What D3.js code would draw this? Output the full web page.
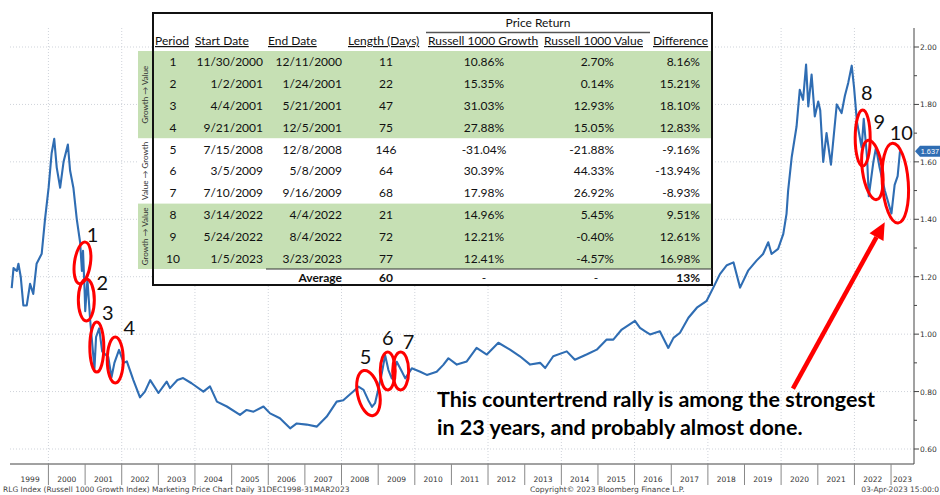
<!DOCTYPE html>
<html>
<head>
<meta charset="utf-8">
<script src="https://cdn.jsdelivr.net/npm/d3@7"></script>
<style>
    body { margin: 0; background: #fff; }
    svg { display: block; }
</style>
</head>
<body>
<div id="chart"></div>
<script>
// Growth vs value line
const dates = [
    '1998-12-31', '1999-01-18', '1999-02-20', '1999-03-08', '1999-03-31', '1999-04-26', '1999-05-30', '1999-07-02',
    '1999-08-03', '1999-09-05', '1999-10-26', '1999-11-28', '2000-01-03', '2000-02-02', '2000-02-28', '2000-03-24',
    '2000-04-27', '2000-05-31', '2000-07-13', '2000-08-04', '2000-09-06', '2000-10-10', '2000-11-12', '2000-11-30',
    '2000-12-11', '2000-12-28', '2001-01-02', '2001-01-24', '2001-02-20', '2001-03-12', '2001-04-04', '2001-04-20',
    '2001-05-21', '2001-06-20', '2001-07-20', '2001-08-20', '2001-09-21', '2001-10-20', '2001-12-05', '2002-01-20',
    '2002-02-21', '2002-04-27', '2002-07-02', '2002-08-20', '2002-10-12', '2003-01-02', '2003-03-25', '2003-04-27',
    '2003-07-10', '2003-09-05', '2003-11-28', '2004-03-25', '2004-05-30', '2004-08-07', '2004-11-14', '2005-03-25',
    '2005-05-30', '2005-08-07', '2005-11-14', '2006-01-19', '2006-04-27', '2006-08-07', '2006-10-12', '2007-01-19',
    '2007-05-01', '2007-08-07', '2007-11-14', '2008-01-19', '2008-04-27', '2008-06-18', '2008-08-08', '2008-09-24',
    '2008-10-31', '2008-12-01', '2009-01-01', '2009-02-06', '2009-03-11', '2009-04-13', '2009-05-16', '2009-07-05',
    '2009-08-26', '2009-09-28', '2009-12-02', '2010-02-24', '2010-05-01', '2010-08-07', '2010-10-12', '2010-12-02',
    '2011-02-24', '2011-06-03', '2011-09-09', '2011-12-20', '2012-04-13', '2012-08-07', '2012-11-14', '2013-02-24',
    '2013-06-03', '2013-07-24', '2013-10-12', '2014-02-24', '2014-05-16', '2014-09-09', '2014-12-20', '2015-03-29',
    '2015-06-03', '2015-08-26', '2016-01-05', '2016-02-24', '2016-04-16', '2016-06-03', '2016-09-09', '2016-12-02',
    '2017-01-23', '2017-03-29', '2017-06-21', '2017-09-13', '2017-12-20', '2018-02-24', '2018-05-01', '2018-07-09',
    '2018-09-13', '2018-11-18', '2019-02-06', '2019-05-01', '2019-07-05', '2019-08-26', '2019-09-28', '2019-12-02',
    '2020-01-23', '2020-02-24', '2020-03-11', '2020-04-16', '2020-06-03', '2020-07-05', '2020-08-07', '2020-09-06',
    '2020-09-28', '2020-10-31', '2020-12-02', '2021-01-05', '2021-01-25', '2021-02-24', '2021-03-29', '2021-05-12',
    '2021-07-09', '2021-08-26', '2021-09-28', '2021-10-31', '2021-12-05', '2021-12-28', '2022-01-26', '2022-03-14',
    '2022-04-04', '2022-05-08', '2022-05-24', '2022-07-09', '2022-08-04', '2022-09-09', '2022-10-31', '2023-01-05',
    '2023-02-06', '2023-03-08', '2023-03-31'
];
const values = [
    1.16, 1.23, 1.22, 1.245, 1.20, 1.10, 1.10, 1.175,
    1.14, 1.245, 1.28, 1.40, 1.51, 1.63, 1.68, 1.58,
    1.51, 1.60, 1.66, 1.57, 1.51, 1.40, 1.32, 1.22,
    1.29, 1.14, 1.08, 1.19, 1.05, 0.97, 0.88, 0.99,
    1.02, 0.94, 0.93, 0.92, 0.85, 0.90, 0.945, 0.90,
    0.905, 0.84, 0.78, 0.80, 0.84, 0.795, 0.835, 0.812,
    0.84, 0.847, 0.829, 0.80, 0.818, 0.765, 0.748, 0.719,
    0.736, 0.73, 0.748, 0.724, 0.707, 0.672, 0.689, 0.685,
    0.678, 0.713, 0.765, 0.77, 0.80, 0.817, 0.806, 0.77,
    0.747, 0.76, 0.806, 0.864, 0.927, 0.875, 0.846, 0.904,
    0.869, 0.846, 0.881, 0.869, 0.858, 0.869, 0.893, 0.916,
    0.894, 0.905, 0.952, 0.929, 0.97, 0.946, 0.923, 0.894,
    0.90, 0.882, 0.923, 0.94, 0.911, 0.929, 0.946, 0.981,
    0.981, 1.016, 1.046, 1.022, 1.01, 0.999, 1.01, 0.952,
    0.987, 1.005, 1.057, 1.092, 1.116, 1.162, 1.209, 1.24,
    1.25, 1.162, 1.221, 1.256, 1.279, 1.32, 1.279, 1.297,
    1.349, 1.419, 1.50, 1.617, 1.723, 1.851, 1.816, 1.939,
    1.793, 1.904, 1.758, 1.81, 1.78, 1.60, 1.70, 1.59,
    1.80, 1.77, 1.83, 1.875, 1.935, 1.86, 1.74, 1.65,
    1.75, 1.61, 1.48, 1.60, 1.65, 1.58, 1.50, 1.42,
    1.52, 1.55, 1.637
];
const lastValueLabel = '1.637';

// Axis ticks
const yTicks = [0.6, 0.8, 1.0, 1.2, 1.4, 1.6, 1.8, 2.0];
const yMinorTicks = [0.7, 0.9, 1.1, 1.3, 1.5, 1.7, 1.9];
const yearLabels = [1999, 2000, 2001, 2002, 2003, 2004, 2005, 2006, 2007, 2008, 2009, 2010, 2011,
    2012, 2013, 2014, 2015, 2016, 2017, 2018, 2019, 2020, 2021, 2022, 2023];

// Table of countertrend periods
const periods = [1, 2, 3, 4, 5, 6, 7, 8, 9, 10];
const startDates = ['11/30/2000', '1/2/2001', '4/4/2001', '9/21/2001', '7/15/2008', '3/5/2009', '7/10/2009', '3/14/2022', '5/24/2022', '1/5/2023'];
const endDates = ['12/11/2000', '1/24/2001', '5/21/2001', '12/5/2001', '12/8/2008', '5/8/2009', '9/16/2009', '4/4/2022', '8/4/2022', '3/23/2023'];
const lengthDays = [11, 22, 47, 75, 146, 64, 68, 21, 72, 77];
const growthReturns = ['10.86%', '15.35%', '31.03%', '27.88%', '-31.04%', '30.39%', '17.98%', '14.96%', '12.21%', '12.41%'];
const valueReturns = ['2.70%', '0.14%', '12.93%', '15.05%', '-21.88%', '44.33%', '26.92%', '5.45%', '-0.40%', '-4.57%'];
const differences = ['8.16%', '15.21%', '18.10%', '12.83%', '-9.16%', '-13.94%', '-8.93%', '9.51%', '12.61%', '16.98%'];
const averageRow = ['Average', '60', '-', '-', '13%'];
const headers = ['Period', 'Start Date', 'End Date', 'Length (Days)', 'Russell 1000 Growth', 'Russell 1000 Value', 'Difference'];
const groupLabels = ['Growth \u2192 Value', 'Value \u2192 Growth', 'Growth \u2192 Value'];

// Level of the line where each period is circled
const circleValues = [1.248, 1.119, 0.955, 0.910, 0.795, 0.872, 0.872, 1.683, 1.572, 1.526];

const noteLines = ['This countertrend rally is among the strongest', 'in 23 years, and probably almost done.'];
const arrowFrom = ['2020-04-28', 0.81];
const arrowTo = ['2022-10-30', 1.39];

const footerLeft = 'RLG Index (Russell 1000 Growth Index) Marketing Price Chart  Daily 31DEC1998-31MAR2023';
const footerMid = 'Copyright\u00a9 2023 Bloomberg Finance L.P.';
const footerRight = '03-Apr-2023 15:00:0';

const parseDate = d3.timeParse('%Y-%m-%d');
const fmtDate = d3.timeParse('%m/%d/%Y');

function createChart() {
    const width = 940, height = 495;
    const plot = { left: 10, right: 914, top: 28, bottom: 464 };
    const blue = '#2f6db3';
    const axisFont = "'DejaVu Sans', sans-serif";
    const tableFont = "Lato, 'Open Sans', sans-serif";

    const svg = d3.select('#chart')
        .append('svg')
        .attr('width', width)
        .attr('height', height);

    const x = d3.scaleTime()
        .domain([new Date(1998, 11, 14), new Date(2023, 7, 18)])
        .range([plot.left, plot.right]);
    const y = d3.scaleLinear()
        .domain([0.6, 2.0])
        .range([449, 47]);

    const series = dates.map((d, i) => ({ date: parseDate(d), value: values[i] }));

    // Dotted grid
    svg.append('g').selectAll('line')
        .data(yTicks)
        .enter()
        .append('line')
        .attr('x1', plot.left).attr('x2', plot.right)
        .attr('y1', d => y(d)).attr('y2', d => y(d))
        .attr('stroke', '#cfd3da')
        .attr('stroke-dasharray', '1,2');
    svg.append('g').selectAll('line')
        .data(yearLabels.filter(yr => yr % 2 === 0))
        .enter()
        .append('line')
        .attr('x1', d => x(new Date(d, 0, 1))).attr('x2', d => x(new Date(d, 0, 1)))
        .attr('y1', plot.top).attr('y2', plot.bottom)
        .attr('stroke', '#cfd3da')
        .attr('stroke-dasharray', '1,2');

    // Axis frame
    svg.append('line')
        .attr('x1', plot.left).attr('x2', plot.right)
        .attr('y1', plot.bottom).attr('y2', plot.bottom)
        .attr('stroke', '#444');
    svg.append('line')
        .attr('x1', plot.right).attr('x2', plot.right)
        .attr('y1', plot.top).attr('y2', plot.bottom)
        .attr('stroke', '#444');

    // Year separators and labels
    svg.append('g').selectAll('line')
        .data(yearLabels.slice(1))
        .enter()
        .append('line')
        .attr('x1', d => x(new Date(d, 0, 1))).attr('x2', d => x(new Date(d, 0, 1)))
        .attr('y1', plot.bottom).attr('y2', plot.bottom + 21)
        .attr('stroke', '#888');
    svg.append('g').selectAll('text')
        .data(yearLabels)
        .enter()
        .append('text')
        .attr('x', d => {
            const a = Math.max(plot.left, x(new Date(d, 0, 1)));
            const b = Math.min(plot.right, x(new Date(d + 1, 0, 1)));
            return (a + b) / 2;
        })
        .attr('y', 482)
        .attr('text-anchor', 'middle')
        .style('font-family', axisFont)
        .style('font-size', '7.5px')
        .style('fill', '#333')
        .text(d => d);

    // Right value axis
    svg.append('g').selectAll('line')
        .data(yTicks)
        .enter()
        .append('line')
        .attr('x1', plot.right).attr('x2', plot.right + 5)
        .attr('y1', d => y(d)).attr('y2', d => y(d))
        .attr('stroke', '#444');
    svg.append('g').selectAll('line')
        .data(yMinorTicks)
        .enter()
        .append('line')
        .attr('x1', plot.right).attr('x2', plot.right + 3)
        .attr('y1', d => y(d)).attr('y2', d => y(d))
        .attr('stroke', '#444');
    svg.append('g').selectAll('text')
        .data(yTicks)
        .enter()
        .append('text')
        .attr('x', plot.right + 6)
        .attr('y', d => y(d) + 3)
        .style('font-family', axisFont)
        .style('font-size', '7.5px')
        .style('fill', '#333')
        .text(d => d.toFixed(2));

    // The line itself
    const line = d3.line()
        .x(d => x(d.date))
        .y(d => y(d.value));
    svg.append('path')
        .datum(series)
        .attr('d', line)
        .attr('fill', 'none')
        .attr('stroke', blue)
        .attr('stroke-width', 2.1)
        .attr('stroke-linejoin', 'round');

    // Last value tag
    const ty = y(values[values.length - 1]);
    svg.append('path')
        .attr('d', `M${plot.right + 1},${ty} L${plot.right + 6},${ty - 5.5} L${width},${ty - 5.5} L${width},${ty + 5.5} L${plot.right + 6},${ty + 5.5} Z`)
        .attr('fill', blue);
    svg.append('text')
        .attr('x', width - 1)
        .attr('y', ty + 2.7)
        .attr('text-anchor', 'end')
        .style('font-family', "'Liberation Sans', Arial, sans-serif")
        .style('font-size', '7.3px')
        .style('fill', '#fff')
        .text(lastValueLabel);

    drawTable(svg, tableFont);

    // Red ellipses round each period
    const rings = [[8, 21, 8], [8, 21, 0], [7, 25, 0], [8, 23, 0], [11, 23, -12], [7.5, 19, 0], [8, 19, 0], [7.5, 28, 0], [10, 30, -8], [13, 40, -4]];
    const labelOffset = [[10, -28], [16, -17], [11, -34], [14, -32], [-3, -36], [0, -33], [8, -29], [4, -45], [7, -48], [6, -50]];
    periods.forEach((p, i) => {
        const t0 = fmtDate(startDates[i]), t1 = fmtDate(endDates[i]);
        const cx = x(new Date((+t0 + +t1) / 2));
        const cy = y(circleValues[i]);
        svg.append('ellipse')
            .attr('cx', cx).attr('cy', cy)
            .attr('rx', rings[i][0]).attr('ry', rings[i][1])
            .attr('transform', `rotate(${rings[i][2]},${cx},${cy})`)
            .attr('fill', 'none')
            .attr('stroke', '#ff0000')
            .attr('stroke-width', 3);
        svg.append('text')
            .attr('x', cx + labelOffset[i][0])
            .attr('y', cy + labelOffset[i][1] + 7)
            .attr('text-anchor', 'middle')
            .style('font-family', tableFont)
            .style('font-size', '20px')
            .style('fill', '#111')
            .text(p);
    });

    // Note and arrow
    svg.selectAll('.note')
        .data(noteLines)
        .enter()
        .append('text')
        .attr('class', 'note')
        .attr('x', 437)
        .attr('y', (d, i) => 407 + i * 28)
        .style('font-family', tableFont)
        .style('font-weight', 700)
        .style('font-size', '21.5px')
        .style('fill', '#000')
        .text(d => d);

    const ax0 = x(parseDate(arrowFrom[0])), ay0 = y(arrowFrom[1]);
    const ax1 = x(parseDate(arrowTo[0])), ay1 = y(arrowTo[1]);
    const ang = Math.atan2(ay1 - ay0, ax1 - ax0);
    const headLen = 17, headW = 8;
    const bx = ax1 - headLen * Math.cos(ang), by = ay1 - headLen * Math.sin(ang);
    svg.append('line')
        .attr('x1', ax0).attr('y1', ay0)
        .attr('x2', bx).attr('y2', by)
        .attr('stroke', '#ff0000')
        .attr('stroke-width', 4.5);
    svg.append('path')
        .attr('d', `M${ax1},${ay1} L${bx + headW * Math.sin(ang)},${by - headW * Math.cos(ang)} L${bx - headW * Math.sin(ang)},${by + headW * Math.cos(ang)} Z`)
        .attr('fill', '#ff0000');

    // Footer
    const footer = [[footerLeft, 3, 'start'], [footerMid, 530, 'start'], [footerRight, 939, 'end']];
    svg.selectAll('.footer')
        .data(footer)
        .enter()
        .append('text')
        .attr('class', 'footer')
        .attr('x', d => d[1])
        .attr('y', 492)
        .attr('text-anchor', d => d[2])
        .style('font-family', axisFont)
        .style('font-size', '7.5px')
        .style('fill', '#444')
        .text(d => d[0]);
}

// Excel style table pasted over the chart
function drawTable(svg, font) {
    const left = 153, right = 712, top = 13, bottom = 285;
    const rowTop = 51, rowH = 21.8;
    const green = '#c6e0b4';
    const rowY = i => rowTop + i * rowH;

    const g = svg.append('g');
    g.append('rect')
        .attr('x', left).attr('y', top)
        .attr('width', right - left).attr('height', bottom - top)
        .attr('fill', '#fff');
    g.append('rect')
        .attr('x', 138).attr('y', rowY(0))
        .attr('width', left - 138).attr('height', rowY(10) - rowY(0))
        .attr('fill', '#fff');

    // Green bands for growth -> value rows
    [[0, 4], [7, 10]].forEach(([a, b]) => {
        g.append('rect')
            .attr('x', 138).attr('y', rowY(a))
            .attr('width', right - 138).attr('height', rowY(b) - rowY(a))
            .attr('fill', green);
    });

    // Rotated group labels
    [[0, 4], [4, 7], [7, 10]].forEach(([a, b], i) => {
        const cy = (rowY(a) + rowY(b)) / 2;
        g.append('text')
            .attr('transform', `translate(148,${cy}) rotate(-90)`)
            .attr('text-anchor', 'middle')
            .style('font-family', font)
            .style('font-size', '8px')
            .style('fill', '#333')
            .text(groupLabels[i]);
    });

    g.append('rect')
        .attr('x', left).attr('y', top)
        .attr('width', right - left).attr('height', bottom - top)
        .attr('fill', 'none')
        .attr('stroke', '#111')
        .attr('stroke-width', 2);

    // Price Return super header
    g.append('text')
        .attr('x', 538).attr('y', 27)
        .attr('text-anchor', 'middle')
        .style('font-family', font).style('font-size', '12px').style('fill', '#111')
        .text('Price Return');
    g.append('line')
        .attr('x1', 426).attr('x2', 650)
        .attr('y1', 32.5).attr('y2', 32.5)
        .attr('stroke', '#555').attr('stroke-width', 1.5);

    const headerX = [155, 195, 268, 348, 428, 544, 653];
    headers.forEach((h, i) => {
        g.append('text')
            .attr('x', headerX[i]).attr('y', 45)
            .style('font-family', font).style('font-size', '12px').style('fill', '#111')
            .style('text-decoration', 'underline')
            .text(h);
    });

    // Column anchors for the body
    const cols = [
        { x: 173, anchor: 'middle', data: periods },
        { x: 263, anchor: 'end', data: startDates },
        { x: 342, anchor: 'end', data: endDates },
        { x: 386, anchor: 'middle', data: lengthDays },
        { x: 484, anchor: 'middle', data: growthReturns },
        { x: 614, anchor: 'end', data: valueReturns },
        { x: 700, anchor: 'end', data: differences }
    ];
    cols.forEach(c => {
        g.append('g').selectAll('text')
            .data(c.data)
            .enter()
            .append('text')
            .attr('x', c.x)
            .attr('y', (d, i) => rowY(i) + rowH / 2 + 4.5)
            .attr('text-anchor', c.anchor)
            .style('font-family', font).style('font-size', '12px').style('fill', '#111')
            .text(d => d);
    });

    // Average row
    g.append('line')
        .attr('x1', 266).attr('x2', right)
        .attr('y1', rowY(10)).attr('y2', rowY(10))
        .attr('stroke', '#333');
    const avgCols = [[342, 'end', true], [386, 'middle', true], [484, 'middle', false], [596, 'middle', false], [700, 'end', true]];
    averageRow.forEach((v, i) => {
        g.append('text')
            .attr('x', avgCols[i][0])
            .attr('y', (rowY(10) + bottom) / 2 + 4.5)
            .attr('text-anchor', avgCols[i][1])
            .style('font-family', font).style('font-size', '12px').style('fill', '#111')
            .style('font-weight', avgCols[i][2] ? 700 : 400)
            .text(v);
    });
}

createChart();
</script>
</body>
</html>
